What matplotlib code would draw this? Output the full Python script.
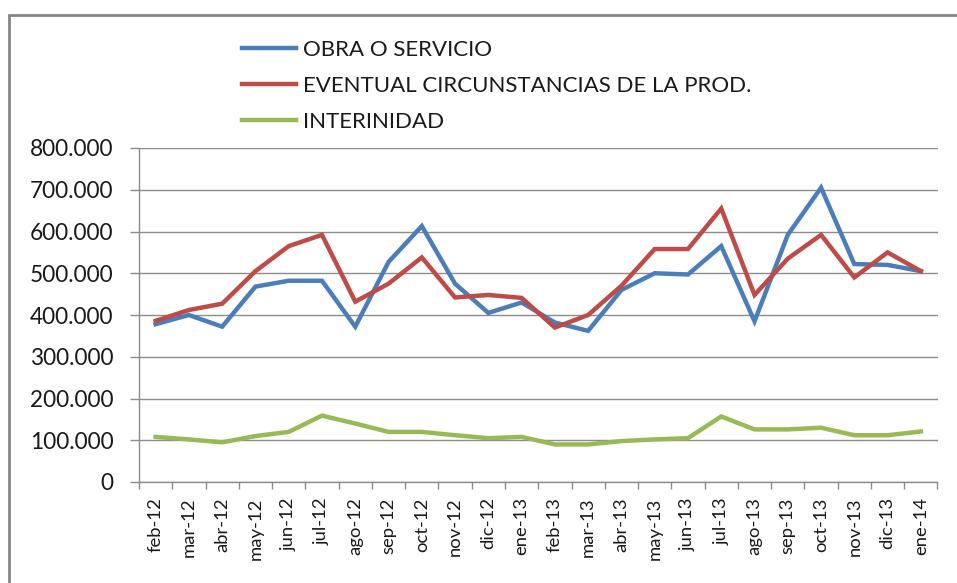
import matplotlib
matplotlib.use("Agg")
import matplotlib.pyplot as plt
from matplotlib.ticker import FuncFormatter, FixedLocator
from matplotlib.patches import Rectangle

plt.rcParams['font.family'] = ['Lato', 'DejaVu Sans']

months = ["feb-12", "mar-12", "abr-12", "may-12", "jun-12", "jul-12", "ago-12", "sep-12",
          "oct-12", "nov-12", "dic-12", "ene-13", "feb-13", "mar-13", "abr-13", "may-13",
          "jun-13", "jul-13", "ago-13", "sep-13", "oct-13", "nov-13", "dic-13", "ene-14"]

obra = [378000, 400000, 372000, 468000, 482000, 482000, 372000, 527000,
        613000, 475000, 405000, 430000, 382000, 362000, 460000, 500000,
        497000, 565000, 385000, 592000, 705000, 522000, 520000, 505000]

eventual = [386000, 412000, 427000, 505000, 565000, 592000, 432000, 475000,
            538000, 442000, 448000, 441000, 370000, 400000, 470000, 558000,
            558000, 655000, 448000, 535000, 592000, 490000, 550000, 505000]

interinidad = [108000, 102000, 95000, 110000, 120000, 159000, 140000, 120000,
               120000, 112000, 105000, 108000, 90000, 90000, 98000, 102000,
               105000, 157000, 126000, 126000, 130000, 112000, 112000, 121000]

series_names = ["OBRA O SERVICIO", "EVENTUAL CIRCUNSTANCIAS DE LA PROD.", "INTERINIDAD"]
colors = ["#4A7EBB", "#BE4B48", "#98B954"]

W, H = 957, 583
fig = plt.figure(figsize=(W / 100, H / 100), dpi=100)
ax = fig.add_axes([139 / W, (H - 482) / H, (937.5 - 139) / W, (482 - 148) / H])

x = list(range(len(months)))
handles = []
for vals, name, c in zip([obra, eventual, interinidad], series_names, colors):
    h, = ax.plot(x, vals, color=c, lw=3.2, solid_joinstyle='miter', label=name, zorder=3)
    handles.append(h)

ax.set_xlim(-0.5, len(months) - 0.5)
ax.set_ylim(0, 800000)
ax.set_yticks(range(0, 800001, 100000))
ax.yaxis.set_major_formatter(FuncFormatter(lambda v, p: "0" if v == 0 else f"{int(v):,}".replace(",", ".")))
ax.grid(axis='y', color='#8c8c8c', lw=1.0, zorder=0)

ax.set_xticks(x)
ax.set_xticklabels(months, rotation=90, fontsize=13.3, color='#1a1a1a')
ax.xaxis.set_minor_locator(FixedLocator([i - 0.5 for i in range(len(months) + 1)]))
ax.tick_params(axis='x', which='major', length=0, pad=11)
ax.tick_params(axis='x', which='minor', length=5, width=1, color='#8c8c8c', direction='out')
ax.tick_params(axis='y', which='major', length=6.5, width=1, color='#8c8c8c', pad=12,
               labelsize=16.3, labelcolor='#1a1a1a')

for s in ['top', 'right']:
    ax.spines[s].set_visible(False)
for s in ['left', 'bottom']:
    ax.spines[s].set_color('#8c8c8c')
    ax.spines[s].set_linewidth(1.0)

fig.legend(handles=handles, labels=series_names, loc='center left',
           bbox_to_anchor=(242 / W, 1 - 86 / H), frameon=False, borderpad=0,
           borderaxespad=0, fontsize=16, handlelength=2.45, handletextpad=0.3,
           labelspacing=0.72, labelcolor='#1a1a1a')

fig.patches.append(Rectangle((9 / W, -0.1), 1.2, 0.1 + (H - 15) / H, transform=fig.transFigure,
                             fill=False, ec='#858585', lw=2.0))

fig.savefig("out.png", dpi=100)
